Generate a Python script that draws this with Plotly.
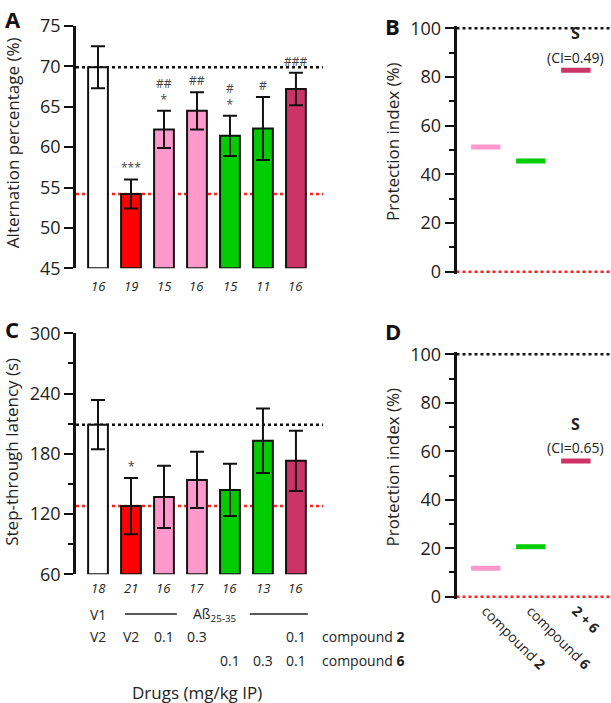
import plotly.graph_objects as go

# ---------------- data ----------------
groups = ["V1+V2", "Ab+V2", "Ab+c2 0.1", "Ab+c2 0.3", "Ab+c6 0.1", "Ab+c6 0.3", "Ab+c2+c6 0.1"]
bar_colors = ["#FFFFFF", "#FF0000", "#FF99CC", "#FF99CC", "#00CC00", "#00CC00", "#CC3366"]

alt_mean = [69.9, 54.2, 62.2, 64.5, 61.4, 62.3, 67.2]
alt_err = [2.6, 1.8, 2.3, 2.3, 2.5, 3.9, 2.0]
alt_n = ["16", "19", "15", "16", "15", "11", "16"]
alt_sig = ["", "***", "##<br>*", "##", "#<br>*", "#", "###"]

lat_mean = [209, 128, 137, 154, 144, 193, 173]
lat_err = [24.5, 28, 31, 28, 26, 32, 30]
lat_n = ["18", "21", "16", "17", "16", "13", "16"]
lat_sig = ["", "*", "", "", "", "", ""]

row_v1 = ["V1", "", "", "", "", "", ""]
row_c2 = ["V2", "V2", "0.1", "0.3", "", "", "0.1"]
row_c6 = ["", "", "", "", "0.1", "0.3", "0.1"]

pi_cats = ["compound <b>2</b>", "compound <b>6</b>", "<b>2 + 6</b>"]
pi_colors = ["#FF99CC", "#00CC00", "#CC3366"]
pi_alt = [51.2, 45.5, 82.8]
pi_lat = [11.7, 20.6, 56.0]
ci_alt = "(CI=0.49)"
ci_lat = "(CI=0.65)"

A_BASE = 45
C_BASE = 60

FONT = "Open Sans"
TXT = "#222222"
W, H = 611, 703

fig = go.Figure()

# ---------------- bars A ----------------
fig.add_trace(go.Bar(
    x=groups, y=[m - A_BASE for m in alt_mean], base=A_BASE,
    marker=dict(color=bar_colors, line=dict(color="#111111", width=2)),
    width=0.6,
    error_y=dict(type="data", array=alt_err, color="#111111", thickness=2, width=7),
    xaxis="x", yaxis="y"))

# ---------------- bars C ----------------
fig.add_trace(go.Bar(
    x=groups, y=[m - C_BASE for m in lat_mean], base=C_BASE,
    marker=dict(color=bar_colors, line=dict(color="#111111", width=2)),
    width=0.6,
    error_y=dict(type="data", array=lat_err, color="#111111", thickness=2, width=7),
    xaxis="x3", yaxis="y3"))

# ---------------- protection index B / D ----------------
fig.add_trace(go.Scatter(
    x=pi_cats, y=pi_alt, mode="markers",
    marker=dict(symbol="line-ew", size=21, line=dict(width=5, color=pi_colors)),
    xaxis="x2", yaxis="y2"))
fig.add_trace(go.Scatter(
    x=pi_cats, y=pi_lat, mode="markers",
    marker=dict(symbol="line-ew", size=21, line=dict(width=5, color=pi_colors)),
    xaxis="x4", yaxis="y4"))

def px2y(p):
    return (H - p) / H

yax = dict(showline=True, linecolor="#111111", linewidth=2.5, ticks="outside",
           ticklen=9, tickwidth=2, tickcolor="#111111", showgrid=False,
           zeroline=False, automargin=False,
           tickfont=dict(family=FONT, size=18, color=TXT))
xax = dict(showline=False, showgrid=False, zeroline=False, ticks="",
           showticklabels=False, fixedrange=True, automargin=False)

xa_dom = [76 / W, 323 / W]
xb_dom = [456.5 / W, 1.0]

fig.update_layout(
    width=W, height=H, margin=dict(l=0, r=0, t=0, b=0, pad=0, autoexpand=False),
    paper_bgcolor="white", plot_bgcolor="rgba(0,0,0,0)", showlegend=False,
    font=dict(family=FONT, color=TXT),
    xaxis=dict(xax, domain=xa_dom, range=[-0.667, 6.82], anchor="y"),
    yaxis=dict(yax, domain=[px2y(268.3), px2y(26)], range=[45, 75],
               tickvals=[45, 50, 55, 60, 65, 70, 75], anchor="x"),
    xaxis2=dict(xax, domain=xb_dom, range=[-0.65, 2.78], anchor="y2"),
    yaxis2=dict(yax, domain=[px2y(274.1), px2y(25.9)], range=[-1, 101],
                tickvals=[0, 20, 40, 60, 80, 100], anchor="x2",
                minor=dict(dtick=10, ticks="outside", ticklen=5, tickwidth=2,
                           tickcolor="#111111")),
    xaxis3=dict(xax, domain=xa_dom, range=[-0.667, 6.82], anchor="y3"),
    yaxis3=dict(yax, domain=[px2y(574.3), px2y(333.3)], range=[60, 300],
                tickvals=[60, 120, 180, 240, 300], anchor="x3",
                minor=dict(dtick=30, ticks="outside", ticklen=5, tickwidth=2,
                           tickcolor="#111111")),
    xaxis4=dict(xax, domain=xb_dom, range=[-0.65, 2.78], anchor="y4",
                showticklabels=True, tickangle=45,
                tickfont=dict(family=FONT, size=14, color=TXT)),
    yaxis4=dict(yax, domain=[px2y(599.1), px2y(351.9)], range=[-1, 101],
                tickvals=[0, 20, 40, 60, 80, 100], anchor="x4",
                minor=dict(dtick=10, ticks="outside", ticklen=5, tickwidth=2,
                           tickcolor="#111111")),
)

# ---------------- reference lines ----------------
def hline(xref, yref, yv, color):
    fig.add_shape(type="line", xref=xref, yref=yref, x0=0, x1=1, y0=yv, y1=yv,
                  line=dict(color=color, width=2.5, dash="dot"), layer="below")

hline("x domain", "y", alt_mean[0], "#111111")
hline("x domain", "y", alt_mean[1], "#FF2020")
hline("x3 domain", "y3", lat_mean[0], "#111111")
hline("x3 domain", "y3", lat_mean[1], "#FF2020")
hline("x2 domain", "y2", 100, "#111111")
hline("x2 domain", "y2", 0, "#FF2020")
hline("x4 domain", "y4", 100, "#111111")
hline("x4 domain", "y4", 0, "#FF2020")

ann = []
# significance marks
for g, m, e, s in zip(groups, alt_mean, alt_err, alt_sig):
    if s:
        ann.append(dict(x=g, y=m + e, xref="x", yref="y", text=s, showarrow=False,
                        yanchor="bottom", yshift=1, font=dict(size=12, color="#444444")))
for g, m, e, s in zip(groups, lat_mean, lat_err, lat_sig):
    if s:
        ann.append(dict(x=g, y=m + e, xref="x3", yref="y3", text=s, showarrow=False,
                        yanchor="bottom", yshift=1, font=dict(size=12, color="#444444")))

def txt(x, ypx, text, xref, size=14, xanchor="center"):
    ann.append(dict(x=x, y=px2y(ypx), xref=xref, yref="paper", text=text,
                    xanchor=xanchor, yanchor="middle", showarrow=False,
                    font=dict(size=size, color=TXT)))

# n values
for g, n in zip(groups, alt_n):
    txt(g, 286, "<i>%s</i>" % n, "x", 13)
for g, n in zip(groups, lat_n):
    txt(g, 588, "<i>%s</i>" % n, "x3", 13)

# treatment rows
for g, t in zip(groups, row_v1):
    if t:
        txt(g, 614, t, "x3")
txt(3.55, 614, "Aß<sub>25-35</sub>", "x3")
for g, t in zip(groups, row_c2):
    if t:
        txt(g, 636.5, t, "x3")
for g, t in zip(groups, row_c6):
    if t:
        txt(g, 660, t, "x3")
txt(320 / W, 636.5, "compound <b>2</b>", "paper", 14, "left")
txt(320 / W, 660, "compound <b>6</b>", "paper", 14, "left")
txt(197 / W, 692, "Drugs (mg/kg IP)", "paper", 17)

for x0, x1 in [(0.82, 2.39), (4.6, 6.36)]:
    fig.add_shape(type="line", xref="x3", yref="paper", x0=x0, x1=x1,
                  y0=px2y(614), y1=px2y(614), line=dict(color=TXT, width=1.3))

# synergy labels
ann.append(dict(x=pi_cats[2], y=pi_alt[2], xref="x2", yref="y2", text="<b>S</b>",
                showarrow=False, yshift=37, font=dict(size=16, color=TXT)))
ann.append(dict(x=pi_cats[2], y=pi_alt[2], xref="x2", yref="y2", text=ci_alt,
                showarrow=False, yshift=13, font=dict(size=14, color=TXT)))
ann.append(dict(x=pi_cats[2], y=pi_lat[2], xref="x4", yref="y4", text="<b>S</b>",
                showarrow=False, yshift=37, font=dict(size=16, color=TXT)))
ann.append(dict(x=pi_cats[2], y=pi_lat[2], xref="x4", yref="y4", text=ci_lat,
                showarrow=False, yshift=13, font=dict(size=14, color=TXT)))

# axis titles
for yref, t, xp, sh in [("y domain", "Alternation percentage (%)", 12, 4),
                        ("y3 domain", "Step-through latency (s)", 12, 2),
                        ("y2 domain", "Protection index (%)", 392, 8),
                        ("y4 domain", "Protection index (%)", 392, 8)]:
    ann.append(dict(x=xp / W, y=0.5, xref="paper", yref=yref, text=t, textangle=-90,
                    xanchor="center", yanchor="middle",
                    showarrow=False, yshift=sh, font=dict(size=17, color=TXT)))

# panel letters
for t, xp, yp in [("A", 3, 2), ("B", 383, 9), ("C", 3, 312), ("D", 383, 314)]:
    ann.append(dict(x=xp / W, y=px2y(yp), xref="paper", yref="paper", text="<b>%s</b>" % t,
                    xanchor="left", yanchor="top", showarrow=False,
                    font=dict(size=22, color="#111111")))

fig.update_layout(annotations=ann)
fig.write_html("out.html", config={"displayModeBar": False},
               post_script="document.body.style.margin='0';")
